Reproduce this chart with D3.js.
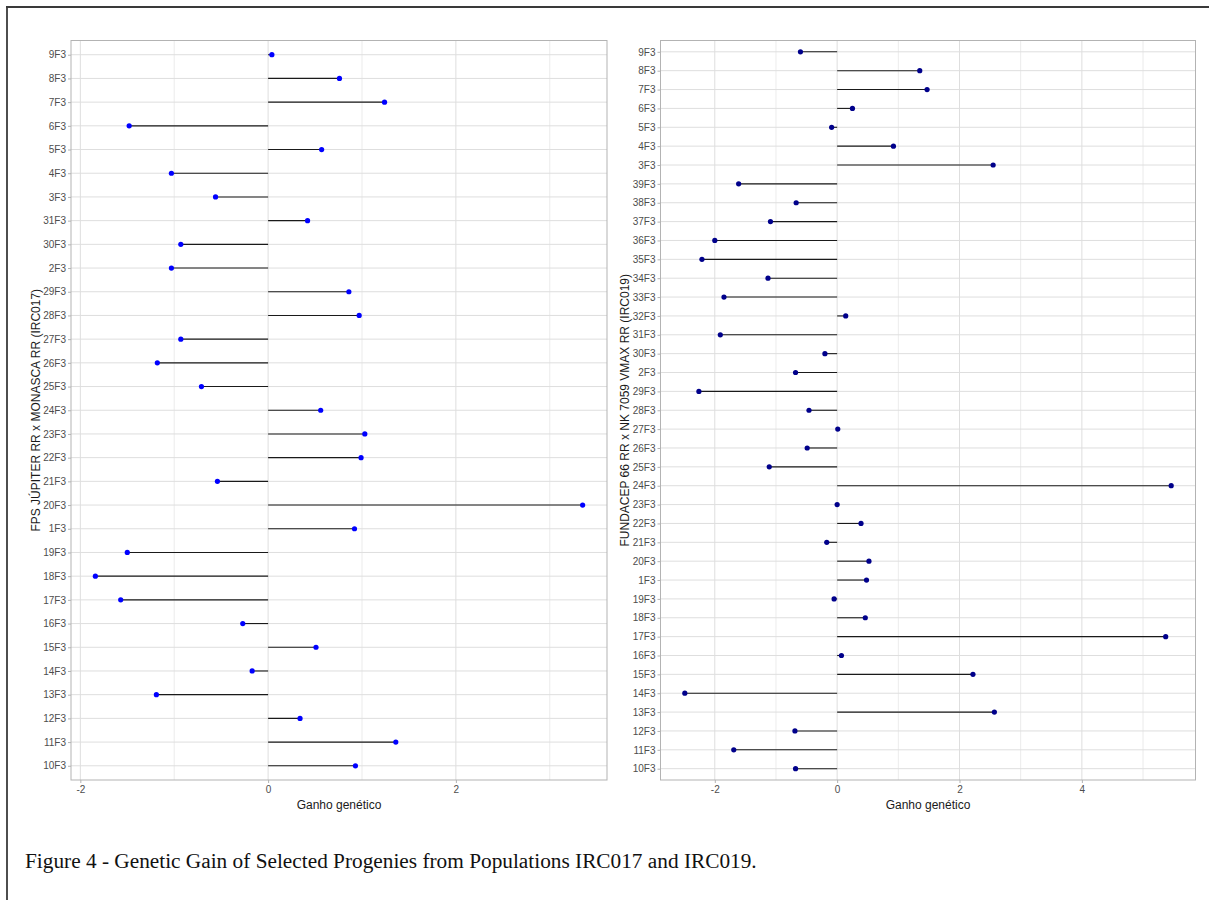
<!DOCTYPE html>
<html>
<head>
<meta charset="utf-8">
<script src="https://cdn.jsdelivr.net/npm/d3@7"></script>
<style>
  html, body { margin: 0; padding: 0; background: #ffffff; }
  svg { display: block; }
</style>
</head>
<body>
<svg id="chart" width="1209" height="900"></svg>
<script>
// ---------- DATA ----------
// Left panel: FPS JÚPITER RR x MONASCA RR (IRC017), categories top -> bottom
const leftCategories = ["9F3","8F3","7F3","6F3","5F3","4F3","3F3","31F3","30F3","2F3","29F3","28F3","27F3","26F3","25F3","24F3","23F3","22F3","21F3","20F3","1F3","19F3","18F3","17F3","16F3","15F3","14F3","13F3","12F3","11F3","10F3"];
const leftValues = [0.04, 0.76, 1.24, -1.48, 0.57, -1.03, -0.56, 0.42, -0.93, -1.03, 0.86, 0.97, -0.93, -1.18, -0.71, 0.56, 1.03, 0.99, -0.54, 3.35, 0.92, -1.50, -1.84, -1.57, -0.27, 0.51, -0.17, -1.19, 0.34, 1.36, 0.93];
const leftTicks = [-2, 0, 2];
const leftMinorTicks = [-1, 1, 3];
const leftTitle = "FPS JÚPITER RR x MONASCA RR (IRC017)";

// Right panel: FUNDACEP 66 RR x NK 7059 VMAX RR (IRC019), categories top -> bottom
const rightCategories = ["9F3","8F3","7F3","6F3","5F3","4F3","3F3","39F3","38F3","37F3","36F3","35F3","34F3","33F3","32F3","31F3","30F3","2F3","29F3","28F3","27F3","26F3","25F3","24F3","23F3","22F3","21F3","20F3","1F3","19F3","18F3","17F3","16F3","15F3","14F3","13F3","12F3","11F3","10F3"];
const rightValues = [-0.60, 1.35, 1.47, 0.25, -0.09, 0.92, 2.55, -1.61, -0.67, -1.09, -2.00, -2.21, -1.13, -1.85, 0.14, -1.91, -0.20, -0.68, -2.26, -0.46, 0.01, -0.49, -1.11, 5.46, 0.00, 0.39, -0.17, 0.52, 0.48, -0.05, 0.46, 5.37, 0.07, 2.22, -2.49, 2.57, -0.69, -1.69, -0.68];
const rightTicks = [-2, 0, 2, 4];
const rightMinorTicks = [-1, 1, 3, 5];
const rightTitle = "FUNDACEP 66 RR x NK 7059 VMAX RR (IRC019)";

const xTitle = "Ganho genético";
const caption = "Figure 4 - Genetic Gain of Selected Progenies from Populations IRC017 and IRC019.";

// ---------- DRAW ----------
const svg = d3.select("#chart");
svg.append("rect").attr("width", 1209).attr("height", 900).attr("fill", "#ffffff");

// outer frame (top and left lines)
svg.append("line").attr("x1", 6).attr("x2", 1209).attr("y1", 7).attr("y2", 7)
  .attr("stroke", "#3a3a3a").attr("stroke-width", 1.8);
svg.append("line").attr("x1", 7).attr("x2", 7).attr("y1", 6).attr("y2", 900)
  .attr("stroke", "#3a3a3a").attr("stroke-width", 1.8);

const FONT = "'Liberation Sans', Arial, sans-serif";

function panel(opts) {
  const { x0, x1, y0, y1, cats, vals, ticks, minor, title, titleX, pointColor } = opts;
  const g = svg.append("g");

  const ext = d3.extent(vals.concat([0]));
  const pad = (ext[1] - ext[0]) * 0.05;
  const x = d3.scaleLinear().domain([ext[0] - pad, ext[1] + pad]).range([x0, x1]);
  const y = d3.scalePoint().domain(cats).range([y0, y1]).padding(0.6);

  // minor grid
  g.selectAll(".minor").data(minor).join("line")
    .attr("x1", d => x(d)).attr("x2", d => x(d)).attr("y1", y0).attr("y2", y1)
    .attr("stroke", "#e6e6e6").attr("stroke-width", 0.8);
  // major grid x
  g.selectAll(".majx").data(ticks).join("line")
    .attr("x1", d => x(d)).attr("x2", d => x(d)).attr("y1", y0).attr("y2", y1)
    .attr("stroke", "#dedede").attr("stroke-width", 1);
  // major grid y
  g.selectAll(".majy").data(cats).join("line")
    .attr("x1", x0).attr("x2", x1).attr("y1", d => y(d)).attr("y2", d => y(d))
    .attr("stroke", "#dedede").attr("stroke-width", 1);

  // segments
  g.selectAll(".seg").data(cats).join("line")
    .attr("x1", x(0)).attr("x2", (d, i) => x(vals[i]))
    .attr("y1", d => y(d)).attr("y2", d => y(d))
    .attr("stroke", "#1a1a1a").attr("stroke-width", 1.1);

  // points
  g.selectAll(".pt").data(cats).join("circle")
    .attr("cx", (d, i) => x(vals[i])).attr("cy", d => y(d)).attr("r", 2.6)
    .attr("fill", pointColor);

  // panel border
  g.append("rect").attr("x", x0).attr("y", y0).attr("width", x1 - x0).attr("height", y1 - y0)
    .attr("fill", "none").attr("stroke", "#b3b3b3").attr("stroke-width", 1);

  // x axis
  const xa = g.append("g").attr("transform", `translate(0,${y1})`)
    .call(d3.axisBottom(x).tickValues(ticks).tickSize(3).tickPadding(3).tickFormat(d => String(d)));
  xa.select(".domain").remove();
  xa.selectAll(".tick line").attr("stroke", "#b3b3b3");
  xa.selectAll(".tick text").attr("fill", "#4d4d4d").attr("font-size", 10).attr("font-family", FONT);

  // y axis
  const ya = g.append("g").attr("transform", `translate(${x0},0)`)
    .call(d3.axisLeft(y).tickSize(3).tickPadding(2));
  ya.select(".domain").remove();
  ya.selectAll(".tick line").attr("stroke", "#b3b3b3");
  ya.selectAll(".tick text").attr("fill", "#4d4d4d").attr("font-size", 10).attr("font-family", FONT);

  // x title
  g.append("text").attr("x", (x0 + x1) / 2).attr("y", 809)
    .attr("text-anchor", "middle").attr("font-size", 12).attr("font-family", FONT)
    .attr("fill", "#1a1a1a").text(xTitle);

  // y title
  g.append("text").attr("transform", `translate(${titleX},${(y0 + y1) / 2}) rotate(-90)`)
    .attr("text-anchor", "middle").attr("font-size", 12).attr("font-family", FONT)
    .attr("fill", "#1a1a1a").text(title);
}

panel({ x0: 71, x1: 607, y0: 40.5, y1: 780, cats: leftCategories, vals: leftValues,
  ticks: leftTicks, minor: leftMinorTicks, title: leftTitle, titleX: 40, pointColor: "#0000ff" });
panel({ x0: 660.5, x1: 1195.5, y0: 40.5, y1: 780, cats: rightCategories, vals: rightValues,
  ticks: rightTicks, minor: rightMinorTicks, title: rightTitle, titleX: 629, pointColor: "#00008b" });

// caption
svg.append("text").attr("x", 25).attr("y", 868)
  .attr("font-family", "'Liberation Serif', 'Times New Roman', serif")
  .attr("font-size", 21.3).attr("fill", "#111").text(caption);
</script>
</body>
</html>
